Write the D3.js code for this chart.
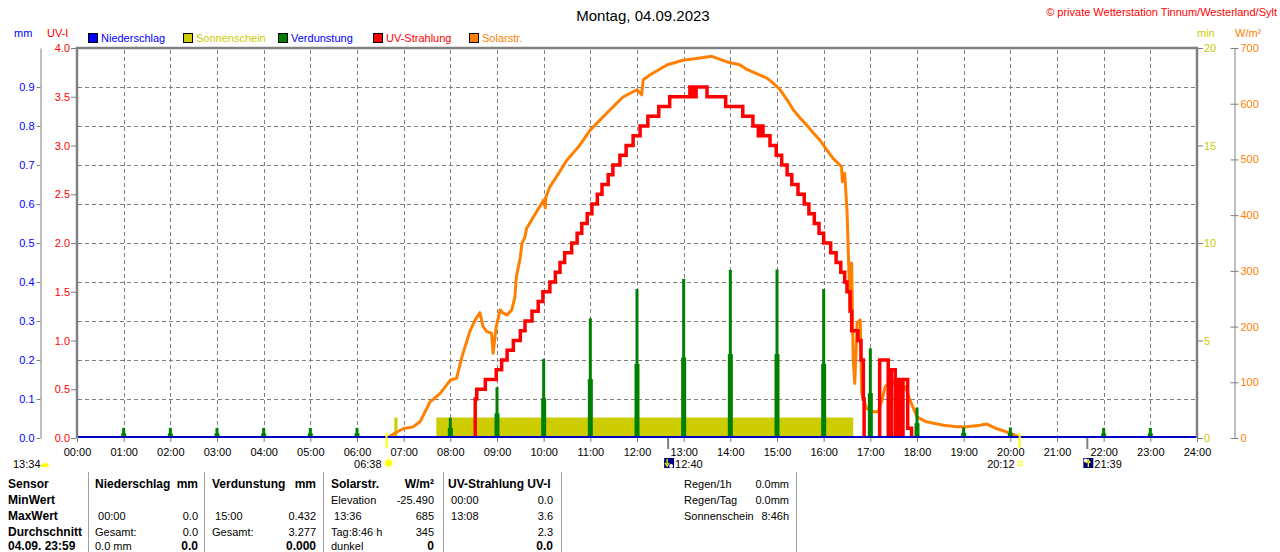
<!DOCTYPE html>
<html>
<head>
<meta charset="utf-8">
<script src="https://cdn.jsdelivr.net/npm/d3@7"></script>
<style>
  body { margin: 0; background: #fff; }
  svg { display: block; font-family: "Liberation Sans", Arial, sans-serif; }
</style>
</head>
<body>
<div id="chart"></div>
<script>
// ---- data (times in minutes after midnight) ----
const hourLabels = ["00:00","01:00","02:00","03:00","04:00","05:00","06:00","07:00","08:00","09:00","10:00","11:00","12:00",
                    "13:00","14:00","15:00","16:00","17:00","18:00","19:00","20:00","21:00","22:00","23:00","24:00"];
const mmTicks  = [0.0, 0.1, 0.2, 0.3, 0.4, 0.5, 0.6, 0.7, 0.8, 0.9];
const uvTicks  = [0.0, 0.5, 1.0, 1.5, 2.0, 2.5, 3.0, 3.5, 4.0];
const minTicks = [0, 5, 10, 15, 20];
const wTicks   = [0, 100, 200, 300, 400, 500, 600, 700];

// Solarstrahlung W/m²
const solarMin = [399,409,420,432,441,454,467,480,488,495,505,512,518,522,527,533,535,539,544,548,553,559,563,565,570,572,576,578,587,
  600,602,603,608,617,630,645,660,681,702,720,726,728,737,759,779,801,816,836,852,862,887,895,904,913,921,930,938,947,955,964,972,
  981,983,984,987,990,992,994,996,998,1000,1003,1007,1009,1015,1024,1030,1035,1039,1048,1058,1065,1071,1080,1092,1114,1131,1144,
  1161,1170,1182,1195,1206,1210,1212];
const solarW = [0,9,17,20,29,65,80,104,107,146,191,212,225,200,191,188,152,200,230,224,221,230,253,290,325,349,361,376,397,
  427,413,433,451,470,499,523,553,583,612,625,616,643,652,670,678,682,685,675,670,661,646,637,625,607,589,574,562,547,535,517,502,
  490,487,460,475,409,319,230,314,140,98,206,212,80,53,47,47,68,92,104,80,92,68,38,29,23,20,20,
  23,25,17,11,5,2,0];

// UV-Strahlung UV-I (stepped)
const uvMin = [510,512,514,525,539,546,553,561,570,576,585,593,599,608,615,621,627,636,643,649,656,662,669,675,683,689,698,706,715,
  724,734,748,762,788,790,792,794,796,810,834,856,869,876,880,882,891,899,906,913,919,927,935,941,948,954,960,969,976,982,987,990,
  994,996,1004,1008,1011,1012,1030,1032,1043,1047,1052,1055,1058,1062,1068,1073,1080];
const uvVal = [0,0.4,0.5,0.6,0.7,0.8,0.9,1.0,1.1,1.2,1.3,1.4,1.5,1.6,1.7,1.8,1.9,2.0,2.1,2.2,2.3,2.4,2.5,2.6,2.7,2.8,2.9,3.0,3.1,
  3.2,3.3,3.4,3.5,3.6,3.5,3.6,3.5,3.6,3.5,3.4,3.3,3.2,3.1,3.2,3.1,3.0,2.9,2.8,2.7,2.6,2.5,2.4,2.3,2.2,2.1,2.0,1.9,1.8,1.7,1.6,1.5,
  1.3,1.1,1.0,0.8,0.4,0,0,0.8,0,0.7,0,0.6,0,0.6,0.1,0,0];

// Verdunstung mm (hourly)
const evapHour = [1,2,3,4,5,6,7,8,9,10,11,12,13,14,15,16,17,18,19,20,21,22,23];
const evapHi = [0.026,0.026,0.026,0.026,0.026,0.026,0,0.052,0.130,0.203,0.307,0.382,0.408,0.431,0.432,0.382,0.230,0.078,0.027,0.027,0,0.026,0.026];
const evapLo = [0.012,0.012,0.012,0.012,0.012,0.012,0,0.026,0.063,0.102,0.151,0.190,0.206,0.215,0.215,0.190,0.115,0.038,0.013,0.013,0,0.012,0.012];

// Sonnenschein min
const sunFrom = [408, 462];
const sunTo   = [412, 998];
const sunVal  = [1.05, 1.05];

const sunEvents  = ["06:38", "20:12"];
const moonEvents = ["12:40", "21:39"];
const dayLength = "13:34";

const legendNames  = ["Niederschlag", "Sonnenschein", "Verdunstung", "UV-Strahlung", "Solarstr."];
const legendColors = ["#0000ff", "#cccc00", "#008000", "#ff0000", "#ff8000"];
const legendText   = ["#0000ff", "#cccc00", "#0000ff", "#ff0000", "#ff8000"];

const rowLabels = ["Sensor", "MinWert", "MaxWert", "Durchschnitt", "04.09. 23:59"];
const rainCol  = [["Niederschlag","mm"], ["",""], [" 00:00","0.0"], ["Gesamt:","0.0"], ["0.0 mm","0.0"]];
const evapCol  = [["Verdunstung","mm"], ["",""], [" 15:00","0.432"], ["Gesamt:","3.277"], ["","0.000"]];
const solarCol = [["Solarstr.","W/m²"], ["Elevation","-25.490"], [" 13:36","685"], ["Tag:8:46 h","345"], ["dunkel","0"]];
const uvCol    = [["UV-Strahlung UV-I",""], [" 00:00","0.0"], [" 13:08","3.6"], ["","2.3"], ["","0.0"]];
const extraCol = [["Regen/1h","0.0mm"], ["Regen/Tag","0.0mm"], ["Sonnenschein","8:46h"]];

// ---- chart ----
const toMin = s => +s.slice(0, 2) * 60 + +s.slice(3);

const svg = d3.select("#chart").append("svg")
  .attr("width", 1280).attr("height", 552);

const x = d3.scaleLinear().domain([0, 1440]).range([77, 1197]);
const yMM = d3.scaleLinear().domain([0, 1]).range([438, 48]);
const yUV = d3.scaleLinear().domain([0, 4]).range([438, 48]);
const ySun = d3.scaleLinear().domain([0, 20]).range([438, 48]);
const yW = d3.scaleLinear().domain([0, 700]).range([438, 48]);

svg.append("defs").append("clipPath").attr("id", "plot")
  .append("rect").attr("x", 77).attr("y", 46).attr("width", 1120).attr("height", 392);

// grid
const grid = svg.append("g").attr("stroke", "#808080").attr("stroke-dasharray", "4,3");
grid.selectAll("line.h").data(mmTicks.slice(1)).join("line")
  .attr("class", "h")
  .attr("x1", 78).attr("x2", 1196)
  .attr("y1", d => Math.round(yMM(d)) + 0.5).attr("y2", d => Math.round(yMM(d)) + 0.5);
grid.selectAll("line.v").data(hourLabels.slice(1, -1)).join("line")
  .attr("class", "v")
  .attr("x1", d => Math.round(x(toMin(d))) + 0.5).attr("x2", d => Math.round(x(toMin(d))) + 0.5)
  .attr("y1", 50).attr("y2", 438);

const plot = svg.append("g").attr("clip-path", "url(#plot)");

// sunshine
plot.selectAll("rect.sun").data(sunFrom).join("rect")
  .attr("class", "sun")
  .attr("x", (d, i) => x(d))
  .attr("width", (d, i) => x(sunTo[i]) - x(d))
  .attr("y", (d, i) => ySun(sunVal[i]))
  .attr("height", (d, i) => ySun(0) - ySun(sunVal[i]))
  .attr("fill", "#cccc00");

// solar radiation
plot.append("path")
  .datum(solarMin.map((m, i) => [m, solarW[i]]))
  .attr("d", d3.line().x(d => x(d[0])).y(d => yW(d[1])))
  .attr("fill", "none").attr("stroke", "#ff8000").attr("stroke-width", 3)
  .attr("stroke-linejoin", "round");

// evaporation
plot.selectAll("rect.evlo").data(evapHour).join("rect")
  .attr("class", "evlo")
  .attr("x", d => x(d * 60) - 2.5).attr("width", 5)
  .attr("y", (d, i) => yMM(evapLo[i])).attr("height", (d, i) => yMM(0) - yMM(evapLo[i]))
  .attr("fill", "#008000");
plot.selectAll("rect.evhi").data(evapHour).join("rect")
  .attr("class", "evhi")
  .attr("x", d => x(d * 60) - 1.5).attr("width", 3)
  .attr("y", (d, i) => yMM(evapHi[i])).attr("height", (d, i) => yMM(0) - yMM(evapHi[i]))
  .attr("fill", "#008000");

// UV
plot.append("path")
  .datum(uvMin.map((m, i) => [m, uvVal[i]]))
  .attr("d", d3.line().curve(d3.curveStepAfter).x(d => x(d[0])).y(d => yUV(d[1])))
  .attr("fill", "none").attr("stroke", "#ff0000").attr("stroke-width", 3.5);

// precipitation (all zero)
svg.append("line")
  .attr("x1", x(0)).attr("x2", x(1440)).attr("y1", yMM(0) - 1).attr("y2", yMM(0) - 1)
  .attr("stroke", "#0000c0").attr("stroke-width", 2);

// frame
svg.append("path")
  .attr("d", `M${x(0)},${yMM(0)}V${yMM(1)}H${x(1440)}V${yMM(0)}`)
  .attr("fill", "none").attr("stroke", "#808080").attr("stroke-width", 2.5);

// axes
function styleAxis(g, color, size) {
  g.attr("font-family", null).attr("font-size", size || 11);
  g.selectAll(".tick line").attr("stroke", "#808080");
  g.selectAll(".tick text").attr("fill", color);
  g.select(".domain").attr("stroke", "#808080");
}

svg.append("g").attr("transform", "translate(40.5,0)")
  .call(d3.axisLeft(yMM).tickValues(mmTicks).tickFormat(d3.format(".1f")).tickSize(4).tickSizeOuter(0).tickPadding(2))
  .call(g => styleAxis(g, "#0000ff"));

svg.append("g").attr("transform", "translate(76,0)")
  .call(d3.axisLeft(yUV).tickValues(uvTicks).tickFormat(d3.format(".1f")).tickSize(5).tickSizeOuter(0).tickPadding(1))
  .call(g => styleAxis(g, "#ff0000"))
  .call(g => g.select(".domain").remove());

svg.append("g").attr("transform", "translate(1198,0)")
  .call(d3.axisRight(ySun).tickValues(minTicks).tickSize(5).tickSizeOuter(0).tickPadding(1))
  .call(g => styleAxis(g, "#cccc00"))
  .call(g => g.select(".domain").remove());

svg.append("g").attr("transform", "translate(1234.5,0)")
  .call(d3.axisRight(yW).tickValues(wTicks).tickSize(4).tickSizeOuter(0).tickPadding(2))
  .call(g => styleAxis(g, "#ff8000"))
  .call(g => g.selectAll(".tick line").attr("x1", -4));

svg.append("g").attr("transform", "translate(0,438)")
  .call(d3.axisBottom(x).tickValues(hourLabels.map(toMin)).tickFormat((d, i) => hourLabels[i]).tickSize(4).tickPadding(6))
  .call(g => styleAxis(g, "#000"))
  .call(g => g.select(".domain").remove());

// unit labels
const units = [["mm", 14, "#0000ff"], ["UV-I", 47, "#ff0000"], ["min", 1197, "#cccc00"], ["W/m²", 1235, "#ff8000"]];
svg.selectAll("text.unit").data(units).join("text")
  .attr("class", "unit").attr("x", d => d[1]).attr("y", 37)
  .attr("font-size", 11).attr("fill", d => d[2]).text(d => d[0]);

// legend
const legX = [88, 183, 278, 373, 469];
const leg = svg.selectAll("g.leg").data(legendNames).join("g")
  .attr("class", "leg").attr("transform", (d, i) => `translate(${legX[i]},33)`);
leg.append("rect").attr("x", 0.5).attr("y", 0.5).attr("width", 9).attr("height", 9)
  .attr("fill", (d, i) => legendColors[i]).attr("stroke", "#000");
leg.append("text").attr("x", 13).attr("y", 9).attr("font-size", 11)
  .attr("fill", (d, i) => legendText[i]).text(d => d);

// titles
svg.append("text").attr("x", 643).attr("y", 21).attr("text-anchor", "middle")
  .attr("font-size", 15).attr("fill", "#000").text("Montag, 04.09.2023");
svg.append("text").attr("x", 1277).attr("y", 16).attr("text-anchor", "end")
  .attr("font-size", 11).attr("fill", "#ff0000").text("© private Wetterstation Tinnum/Westerland/Sylt");

// sun / moon markers under the axis
sunEvents.forEach(s => {
  svg.append("line").attr("x1", x(toMin(s))).attr("x2", x(toMin(s))).attr("y1", 433).attr("y2", 448)
    .attr("stroke", "#ffff00").attr("stroke-width", 2);
});
moonEvents.forEach(s => {
  svg.append("line").attr("x1", x(toMin(s))).attr("x2", x(toMin(s))).attr("y1", 438).attr("y2", 449)
    .attr("stroke", "#808080").attr("stroke-width", 2);
});

const lab = (t, xx, anchor) => svg.append("text").attr("x", xx).attr("y", 468)
  .attr("font-size", 11).attr("text-anchor", anchor).attr("fill", "#000").text(t);

// day length
lab(dayLength, 13, "start");
svg.append("path").attr("d", "M41,467 A4,4 0 0 1 49,467 Z").attr("fill", "#ffff00");

// sunrise
const sr = x(toMin(sunEvents[0]));
lab(sunEvents[0], sr - 5, "end");
const ray = svg.append("g").attr("transform", `translate(${sr + 2},463)`);
d3.range(8).forEach(k => {
  const a = k * Math.PI / 4;
  ray.append("line").attr("x1", Math.cos(a) * 4).attr("y1", Math.sin(a) * 4)
    .attr("x2", Math.cos(a) * 6.5).attr("y2", Math.sin(a) * 6.5)
    .attr("stroke", "#ffff80").attr("stroke-width", 1);
});
ray.append("circle").attr("r", 3.5).attr("fill", "#ffff00");

// sunset
const ss = x(toMin(sunEvents[1]));
lab(sunEvents[1], ss - 5, "end");
svg.append("rect").attr("x", ss - 1.5).attr("y", 461.5).attr("width", 4).attr("height", 4)
  .attr("fill", "none").attr("stroke", "#ffff00");

// moon icons
moonEvents.forEach((s, i) => {
  const mx = x(toMin(s));
  const g = svg.append("g").attr("transform", `translate(${mx - 4},458)`);
  g.append("rect").attr("width", 10).attr("height", 10).attr("fill", "#000080");
  g.append("circle").attr("cx", i === 0 ? 7 : 2.5).attr("cy", i === 0 ? 8 : 2.5).attr("r", 2).attr("fill", "#fff");
  g.append("path")
    .attr("d", i === 0 ? "M3,1V6M1,5L3,8L5,5" : "M5,9V4M3,5L5,2L7,5")
    .attr("fill", "none").attr("stroke", "#ffff00").attr("stroke-width", 1.3);
  lab(s, mx + 7, "start");
});

// ---- table ----
const rowY = [488, 504, 520, 536, 550];
const sepX = [88, 204, 323, 443, 561, 796];
svg.selectAll("line.sep").data(sepX).join("line").attr("class", "sep")
  .attr("x1", d => d + 0.5).attr("x2", d => d + 0.5).attr("y1", 472).attr("y2", 552)
  .attr("stroke", "#a0a0a0");

svg.selectAll("text.rowlab").data(rowLabels).join("text").attr("class", "rowlab")
  .attr("x", 8).attr("y", (d, i) => rowY[i]).attr("font-size", 12).attr("font-weight", "bold")
  .attr("fill", "#000").text(d => d);

function column(cells, left, right) {
  cells.forEach((c, r) => {
    const bold = r === 0;
    svg.append("text").attr("x", left).attr("y", rowY[r]).attr("font-size", bold ? 12 : 11)
      .attr("font-weight", bold ? "bold" : "normal").attr("xml:space", "preserve")
      .attr("fill", "#000").text(c[0]);
    svg.append("text").attr("x", right).attr("y", rowY[r]).attr("text-anchor", "end")
      .attr("font-size", (bold || r === 4) ? 12 : 11)
      .attr("font-weight", (bold || r === 4) ? "bold" : "normal")
      .attr("fill", "#000").text(c[1]);
  });
}
column(rainCol, 95, 198);
column(evapCol, 212, 316);
column(solarCol, 331, 434);
column(uvCol, 448, 553);

extraCol.forEach((c, r) => {
  svg.append("text").attr("x", 684).attr("y", rowY[r]).attr("font-size", 11).attr("fill", "#000").text(c[0]);
  svg.append("text").attr("x", 789).attr("y", rowY[r]).attr("text-anchor", "end")
    .attr("font-size", 11).attr("fill", "#000").text(c[1]);
});
</script>
</body>
</html>
